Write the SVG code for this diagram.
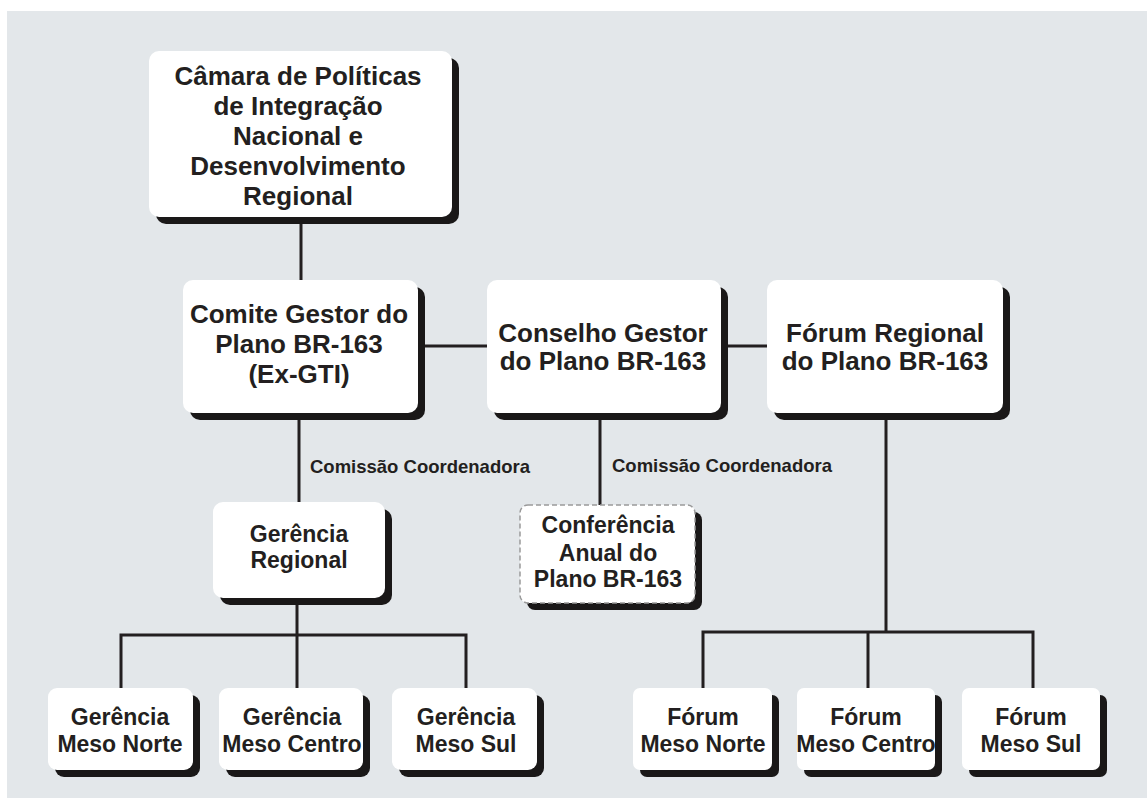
<svg xmlns="http://www.w3.org/2000/svg" width="1147" height="798" viewBox="0 0 1147 798">
<style>
.bg{fill:#e3e7ea}
.sh{fill:#1a1818}
.box{fill:#ffffff}
.dash{fill:#ffffff;stroke:#9a9a9a;stroke-width:1.5;stroke-dasharray:5 3}
.ln{stroke:#231f20;stroke-width:3;fill:none}
text{font-family:"Liberation Sans",Arial,sans-serif;font-weight:bold;fill:#231f20;text-anchor:middle}
.t25{font-size:26px}
.t26{font-size:26px}
.t23{font-size:23px}
.lab{font-size:18.5px;text-anchor:start}
</style>
<rect x="0" y="0" width="1147" height="798" fill="#ffffff"/>
<rect class="bg" x="7" y="11" width="1140" height="787"/>
<g id="connectors">
<line class="ln" x1="301" y1="217" x2="301" y2="282"/>
<line class="ln" x1="418" y1="346" x2="487" y2="346"/>
<line class="ln" x1="721" y1="346" x2="767" y2="346"/>
<line class="ln" x1="299" y1="413" x2="299" y2="503"/>
<line class="ln" x1="297" y1="598" x2="297" y2="690"/>
<polyline class="ln" points="121,690 121,635 466,635 466,690"/>
<line class="ln" x1="600" y1="413" x2="600" y2="506"/>
<line class="ln" x1="886" y1="413" x2="886" y2="632"/>
<polyline class="ln" points="703,690 703,632 1033,632 1033,690"/>
<line class="ln" x1="868" y1="632" x2="868" y2="690"/>
<text class="lab" x="310" y="473">Comissão Coordenadora</text>
<text class="lab" x="612" y="472">Comissão Coordenadora</text>
</g>
<g id="camara">
<rect class="sh" x="156" y="58" width="303" height="166" rx="10"/>
<rect class="box" x="149" y="51" width="303" height="166" rx="10"/>
<text class="t25"><tspan x="298" y="85">Câmara de Políticas</tspan><tspan x="298" y="115">de Integração</tspan><tspan x="298" y="145">Nacional e</tspan><tspan x="298" y="175">Desenvolvimento</tspan><tspan x="298" y="205">Regional</tspan></text>
</g>
<g id="comite">
<rect class="sh" x="190" y="287" width="235" height="133" rx="10"/>
<rect class="box" x="183" y="280" width="235" height="133" rx="10"/>
<text class="t26"><tspan x="299" y="323">Comite Gestor do</tspan><tspan x="299" y="353">Plano BR-163</tspan><tspan x="299" y="383">(Ex-GTI)</tspan></text>
</g>
<g id="conselho">
<rect class="sh" x="494" y="287" width="234" height="133" rx="10"/>
<rect class="box" x="487" y="280" width="234" height="133" rx="10"/>
<text class="t26"><tspan x="603" y="342">Conselho Gestor</tspan><tspan x="603" y="370">do Plano BR-163</tspan></text>
</g>
<g id="forum-regional">
<rect class="sh" x="774" y="287" width="236" height="133" rx="10"/>
<rect class="box" x="767" y="280" width="236" height="133" rx="10"/>
<text class="t26"><tspan x="885" y="342">Fórum Regional</tspan><tspan x="885" y="370">do Plano BR-163</tspan></text>
</g>
<g id="gerencia-regional">
<rect class="sh" x="220" y="509" width="172" height="96" rx="10"/>
<rect class="box" x="213" y="502" width="172" height="96" rx="10"/>
<text class="t23"><tspan x="299" y="542">Gerência</tspan><tspan x="299" y="568">Regional</tspan></text>
</g>
<g id="conferencia">
<rect class="sh" x="527" y="512" width="175" height="98" rx="8"/>
<rect class="dash" x="520" y="505" width="175" height="98" rx="8"/>
<text class="t23"><tspan x="608" y="533">Conferência</tspan><tspan x="608" y="561">Anual do</tspan><tspan x="608" y="587">Plano BR-163</tspan></text>
</g>
<g id="gerencia-norte">
<rect class="sh" x="55" y="695" width="145" height="82" rx="9"/>
<rect class="box" x="48" y="688" width="145" height="82" rx="9"/>
<text class="t23"><tspan x="120" y="725">Gerência</tspan><tspan x="120" y="752">Meso Norte</tspan></text>
</g>
<g id="gerencia-centro">
<rect class="sh" x="226" y="695" width="144" height="82" rx="9"/>
<rect class="box" x="219" y="688" width="144" height="82" rx="9"/>
<text class="t23"><tspan x="292" y="725">Gerência</tspan><tspan x="292" y="752">Meso Centro</tspan></text>
</g>
<g id="gerencia-sul">
<rect class="sh" x="399" y="695" width="145" height="82" rx="9"/>
<rect class="box" x="392" y="688" width="145" height="82" rx="9"/>
<text class="t23"><tspan x="466" y="725">Gerência</tspan><tspan x="466" y="752">Meso Sul</tspan></text>
</g>
<g id="forum-norte">
<rect class="sh" x="640" y="695" width="139" height="82" rx="7"/>
<rect class="box" x="633" y="688" width="139" height="82" rx="7"/>
<text class="t23"><tspan x="703" y="725">Fórum</tspan><tspan x="703" y="752">Meso Norte</tspan></text>
</g>
<g id="forum-centro">
<rect class="sh" x="804" y="695" width="138" height="82" rx="7"/>
<rect class="box" x="797" y="688" width="138" height="82" rx="7"/>
<text class="t23"><tspan x="866" y="725">Fórum</tspan><tspan x="866" y="752">Meso Centro</tspan></text>
</g>
<g id="forum-sul">
<rect class="sh" x="969" y="695" width="138" height="82" rx="7"/>
<rect class="box" x="962" y="688" width="138" height="82" rx="7"/>
<text class="t23"><tspan x="1031" y="725">Fórum</tspan><tspan x="1031" y="752">Meso Sul</tspan></text>
</g>
</svg>
